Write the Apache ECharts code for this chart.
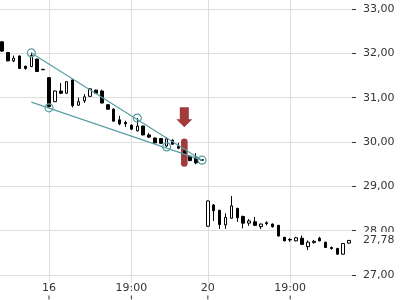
<!DOCTYPE html>
<html>
<head>
<meta charset="utf-8">
<script src="https://cdn.jsdelivr.net/npm/echarts@6/dist/echarts.min.js"></script>
<style>
html,body{margin:0;padding:0;background:#fff;}
#chart{width:400px;height:300px;}
</style>
</head>
<body>
<div id="chart"></div>
<script>
// ---- data ----
const day15Times = ['20:15','20:30','20:45','21:00','21:15','21:30','21:45','22:00'];
const day16Times = ['15:30','15:45','16:00','16:15','16:30','16:45','17:00','17:15','17:30','17:45',
  '18:00','18:15','18:30','18:45','19:00','19:15','19:30','19:45','20:00','20:15',
  '20:30','20:45','21:00','21:15','21:30','21:45','22:00'];
const day20Times = ['15:30','15:45','16:00','16:15','16:30','16:45','17:00','17:15','17:30','17:45',
  '18:00','18:15','18:30','18:45','19:00','19:15','19:30','19:45','20:00','20:15',
  '20:30','20:45','21:00','21:15','21:30'];
const categories = [].concat(
  day15Times.map(t => '15 ' + t),
  day16Times.map(t => '16 ' + t),
  day20Times.map(t => '20 ' + t)
);
// [open, close, low, high]
const ohlc = [
  [32.26,32.05,32.03,32.28],[32.02,31.83,31.82,32.03],[31.83,31.89,31.80,31.95],[31.94,31.66,31.65,31.95],
  [31.71,31.66,31.63,31.72],[31.70,31.95,31.69,32.02],[31.87,31.59,31.58,31.88],[31.64,31.63,31.62,31.65],
  [31.45,30.80,30.77,31.46],[30.91,31.15,30.90,31.16],[31.15,31.10,31.08,31.33],[31.10,31.36,31.09,31.37],
  [31.40,30.82,30.78,31.42],[30.83,30.91,30.82,31.00],[30.93,31.02,30.88,31.08],[31.03,31.20,31.02,31.21],
  [31.17,31.10,31.09,31.18],[31.15,30.88,30.87,31.18],[30.84,30.74,30.73,30.85],[30.74,30.47,30.46,30.76],
  [30.50,30.41,30.38,30.59],[30.44,30.41,30.34,30.48],[30.38,30.29,30.27,30.40],[30.25,30.36,30.24,30.54],
  [30.36,30.16,30.15,30.37],[30.16,30.11,30.09,30.20],[30.09,29.98,29.96,30.10],[30.08,29.97,29.96,30.09],
  [29.91,30.07,29.89,30.11],[30.04,29.95,29.94,30.06],[29.91,29.86,29.84,29.98],[29.80,29.73,29.72,29.82],
  [29.68,29.58,29.57,29.69],[29.66,29.53,29.50,29.75],[29.60,29.59,29.58,29.61],
  [28.10,28.67,28.09,28.68],[28.58,28.45,28.22,28.60],[28.46,28.14,28.04,28.47],[28.13,28.30,28.04,28.39],
  [28.28,28.56,28.27,28.78],[28.50,28.29,28.20,28.52],[28.32,28.17,28.05,28.34],[28.17,28.22,28.11,28.26],
  [28.20,28.12,28.11,28.31],[28.09,28.15,28.04,28.16],[28.18,28.16,28.12,28.21],[28.15,28.09,28.07,28.16],
  [28.12,27.88,27.87,28.13],[27.85,27.77,27.76,27.86],[27.80,27.79,27.75,27.83],[27.77,27.84,27.76,27.86],
  [27.83,27.69,27.68,27.89],[27.64,27.74,27.56,27.78],[27.73,27.76,27.71,27.79],[27.83,27.77,27.76,27.86],
  [27.74,27.62,27.61,27.75],[27.62,27.60,27.57,27.64],[27.60,27.47,27.46,27.61],[27.47,27.71,27.46,27.72],
  [27.72,27.78,27.71,27.79]
];
const yTicks = [27, 28, 29, 30, 31, 32, 33];
// wedge lines: [categoryIndex, price]
const upperLine = [[5, 32.01], [34, 29.59]];
const lowerLine = [[5, 30.90], [34, 29.59]];
const touchPoints = [[5, 32.01], [8, 30.77], [23, 30.54], [28, 29.89], [34, 29.59]];
const signalIndex = 31;
const signalRange = [30.08, 29.44];
const arrowPrice = 30.56;
const lastPrice = ohlc[ohlc.length - 1][1];

// ---- styles ----
const teal = '#5b9ea6';
const red = '#a13b3b';
const textColor = '#333';
const gridColor = '#dddddd';
const fmt = v => v.toFixed(2).replace('.', ',');

function isLabelIdx(i) {
  const t = categories[i].split(' ')[1];
  return t === '15:30' || t === '19:00';
}

const chart = echarts.init(document.getElementById('chart'), null, {renderer: 'canvas'});
chart.setOption({
  animation: false,
  backgroundColor: '#fff',
  textStyle: {fontFamily: 'DejaVu Sans'},
  grid: [
    {left: -1, width: 353, top: 9, height: 266, outerBoundsMode: 'none', containLabel: false},
    {left: 1.94, width: 347.1, top: 0, height: 283, outerBoundsMode: 'none', containLabel: false}
  ],
  xAxis: [
    {type: 'category', data: categories, gridIndex: 0, show: false, boundaryGap: true},
    {type: 'category', data: categories, gridIndex: 1, boundaryGap: false,
      axisLine: {show: false}, axisTick: {show: false, interval: (i) => isLabelIdx(i)},
      splitLine: {show: true, interval: (i) => isLabelIdx(i), lineStyle: {color: gridColor, width: 1}},
      axisLabel: {
        interval: (i) => isLabelIdx(i),
        margin: -1,
        color: textColor, fontSize: 11, fontFamily: 'DejaVu Sans', lineHeight: 12,
        formatter: (val) => {
          const parts = val.split(' ');
          const lab = parts[1] === '15:30' ? parts[0] : parts[1];
          return lab + '\n{t| }';
        },
        rich: {t: {width: 1, height: 4, lineHeight: 7, backgroundColor: textColor}}
      }
    }
  ],
  yAxis: [
    {type: 'value', gridIndex: 0, position: 'right', min: 27, max: 33, interval: 1,
      axisLine: {show: false},
      axisTick: {show: true, length: 4, lineStyle: {color: textColor, width: 1}},
      splitLine: {show: true, lineStyle: {color: gridColor, width: 1}},
      axisLabel: {margin: 11, color: textColor, fontSize: 11, fontFamily: 'DejaVu Sans', formatter: fmt}
    },
    {type: 'value', gridIndex: 1, show: false, min: 0, max: 1}
  ],
  series: [
    {
      type: 'custom', xAxisIndex: 0, yAxisIndex: 0, z: 1, silent: true,
      data: [[signalIndex, signalRange[0], signalRange[1]]],
      renderItem: (params, api) => {
        const top = api.coord([api.value(0), api.value(1)]);
        const bot = api.coord([api.value(0), api.value(2)]);
        return {type: 'rect', shape: {x: top[0] - 3.3, y: top[1], width: 6.6, height: bot[1] - top[1], r: 3.3},
          style: {fill: red}};
      }
    },
    {
      type: 'candlestick', xAxisIndex: 0, yAxisIndex: 0, z: 3,
      data: ohlc,
      barWidth: 3,
      itemStyle: {color: '#ffffff', color0: '#000000', borderColor: '#000000', borderColor0: '#000000', borderWidth: 1},
      markLine: {
        silent: true, symbol: ['none', 'none'], animation: false,
        label: {show: false},
        lineStyle: {color: teal, width: 1.2, type: 'solid'},
        emphasis: {disabled: true},
        data: [
          [{coord: [categories[upperLine[0][0]], upperLine[0][1]]}, {coord: [categories[upperLine[1][0]], upperLine[1][1]]}],
          [{coord: [categories[lowerLine[0][0]], lowerLine[0][1]]}, {coord: [categories[lowerLine[1][0]], lowerLine[1][1]]}]
        ]
      },
      markPoint: {
        silent: true, animation: false,
        label: {show: false},
        data: touchPoints.map(p => ({
          coord: [categories[p[0]], p[1]], symbol: 'circle', symbolSize: 8,
          itemStyle: {color: 'rgba(0,0,0,0)', borderColor: teal, borderWidth: 1.2}
        })).concat([{
          coord: [categories[signalIndex], arrowPrice],
          symbol: 'path://M3.5,0 L12.5,0 L12.5,12 L16,12 L8,20 L0,12 L3.5,12 Z',
          symbolSize: [16, 20],
          itemStyle: {color: red}
        }])
      }
    },
    {
      // last price label on the right axis
      type: 'line', xAxisIndex: 0, yAxisIndex: 0, z: 5, data: [], silent: true,
      markLine: {
        silent: true, symbol: ['none', 'none'], animation: false,
        lineStyle: {color: 'rgba(0,0,0,0)', width: 0},
        label: {show: true, position: 'end', distance: 11, formatter: fmt(lastPrice),
          color: textColor, fontSize: 11, fontFamily: 'DejaVu Sans',
          backgroundColor: '#fff', padding: [3, 4, 3, 0]},
        data: [{yAxis: lastPrice}]
      }
    }
  ]
});
</script>
</body>
</html>
